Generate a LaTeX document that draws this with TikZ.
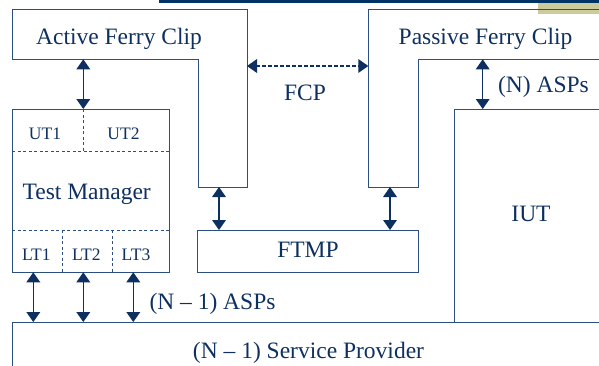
\documentclass[tikz,border=0pt]{standalone}
\usepackage{fontspec}
\setmainfont{Liberation Serif}
\definecolor{navytext}{HTML}{0E3060}
\definecolor{navyline}{HTML}{2A4F80}
\definecolor{navybar}{HTML}{003366}
\definecolor{khaki}{HTML}{CBCB9B}
\tikzset{
  boxline/.style={draw=navyline, line width=1pt},
  divline/.style={draw=navyline, line width=0.9pt, dash pattern=on 3pt off 2.5pt},
  arrline/.style={draw=navytext, line width=1.2pt, shorten <=3pt, shorten >=3pt},
  dasharrline/.style={arrline, dash pattern=on 3.5pt off 2.5pt},
  headfill/.style={fill=navytext},
  bigtxt/.style={text=navytext, font=\fontsize{23.5}{28}\selectfont, anchor=base, inner sep=0pt},
  smalltxt/.style={text=navytext, font=\fontsize{17.5}{21}\selectfont, anchor=base, inner sep=0pt}
}
\newcommand\vbiarrow[2]{%
  \draw[arrline] (#1) -- (#2);
  \fill[headfill] (#1) -- ([shift={(-7,10)}]#1) -- ([shift={(7,10)}]#1) -- cycle;
  \fill[headfill] (#2) -- ([shift={(-7,-10)}]#2) -- ([shift={(7,-10)}]#2) -- cycle;}
\newcommand\hbiarrow[2]{%
  \draw[dasharrline] (#1) -- (#2);
  \fill[headfill] (#1) -- ([shift={(10,-7)}]#1) -- ([shift={(10,7)}]#1) -- cycle;
  \fill[headfill] (#2) -- ([shift={(-10,-7)}]#2) -- ([shift={(-10,7)}]#2) -- cycle;}
\begin{document}
\begin{tikzpicture}[x=1pt,y=-1pt]
\useasboundingbox (0,0) rectangle (599,365);
\begin{scope}
\clip (0,0) rectangle (599,365);
% top decoration
\fill[navybar] (159,0) rectangle (599,3.4);
\fill[khaki] (538,3.4) rectangle (599,14);
% Active Ferry Clip outline
\draw[boxline] (12,9.3) -- (247,9.3) -- (247,187) -- (198,187) -- (198,59.3) -- (12,59.3) -- cycle;
% Passive Ferry Clip outline
\draw[boxline] (620,9.3) -- (368.3,9.3) -- (368.3,187) -- (418.3,187) -- (418.3,59.3) -- (620,59.3);
% Test Manager box
\draw[boxline] (12.3,109) rectangle (169,272.3);
\draw[divline] (12.3,151.7) -- (169,151.7);
\draw[divline] (83.3,109) -- (83.3,151.7);
\draw[divline] (12.3,230) -- (169,230);
\draw[divline] (62,230) -- (62,272.3);
\draw[divline] (112,230) -- (112,272.3);
% FTMP box
\draw[boxline] (197.7,230) rectangle (418.3,272.3);
% IUT box
\draw[boxline] (454,322) -- (454,109) -- (620,109);
% Service provider
\draw[boxline] (12.3,380) -- (12.3,322) -- (620,322);
\end{scope}
% texts
\node[bigtxt] (afc) at (119,44) {Active Ferry Clip};
\node[bigtxt] (pfc) at (485.5,44) {Passive Ferry Clip};
\node[bigtxt] (fcp) at (305,100.7) {FCP};
\node[bigtxt] (nasp) at (543.5,92.7) {(N) ASPs};
\node[smalltxt] (ut1) at (45,139) {UT1};
\node[smalltxt] (ut2) at (123.5,139) {UT2};
\node[bigtxt] (tm) at (86.7,199) {Test Manager};
\node[smalltxt] (lt1) at (36.3,260) {LT1};
\node[smalltxt] (lt2) at (86.3,260) {LT2};
\node[smalltxt] (lt3) at (136,260) {LT3};
\node[bigtxt] (ftmp) at (308,257.5) {FTMP};
\node[bigtxt] (iut) at (531,221.7) {IUT};
\node[bigtxt] (lasp) at (212.5,309) {(N – 1) ASPs};
\node[bigtxt] (sp) at (308.5,358) {(N – 1) Service Provider};
% connector endpoints
\coordinate (afcB) at (83.3,59.3);
\coordinate (tmT) at (83.3,109);
\coordinate (afcR) at (247,66);
\coordinate (pfcL) at (368.3,66);
\coordinate (afcT) at (219,187);
\coordinate (ftA) at (219,230);
\coordinate (pfcT) at (390,187);
\coordinate (ftP) at (390,230);
\coordinate (pfcB) at (482.7,59.3);
\coordinate (iutT) at (482.7,109);
\coordinate (lt1B) at (33.3,272.3);
\coordinate (sp1) at (33.3,322);
\coordinate (lt2B) at (83.3,272.3);
\coordinate (sp2) at (83.3,322);
\coordinate (lt3B) at (133.3,272.3);
\coordinate (sp3) at (133.3,322);
% connectors
\vbiarrow{afcB}{tmT}
\hbiarrow{afcR}{pfcL}
\vbiarrow{afcT}{ftA}
\vbiarrow{pfcT}{ftP}
\vbiarrow{pfcB}{iutT}
\vbiarrow{lt1B}{sp1}
\vbiarrow{lt2B}{sp2}
\vbiarrow{lt3B}{sp3}
\end{tikzpicture}
\end{document}
